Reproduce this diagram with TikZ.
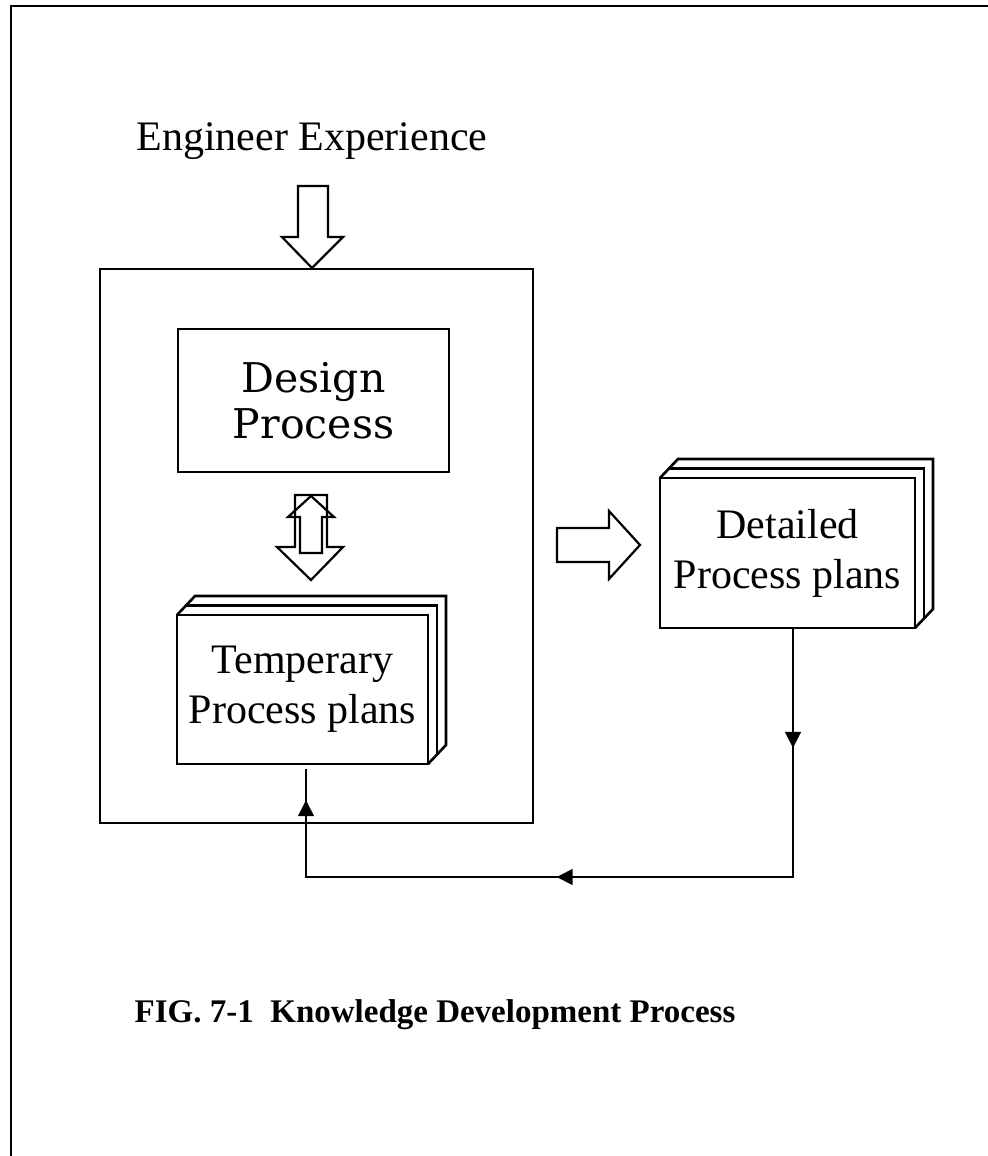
\documentclass[tikz,border=0pt]{standalone}
\usepackage{fontspec}
\setmainfont{Liberation Serif}
\newfontfamily\dsfont{DejaVu Serif}
\usetikzlibrary{arrows.meta,decorations.markings,calc}
\begin{document}
\begin{tikzpicture}[x=0.5pt,y=-0.5pt,
  frameline/.style={line width=1.2pt},
  boxline/.style={line width=1.3pt},
  boxnode/.style={draw, boxline, inner sep=0pt, outer sep=0pt, align=center},
  barrow/.style={line width=1.1pt, line join=miter},
  fb/.style={line width=0.8pt},
  lbl/.style={font=\fontsize{21}{25}\selectfont, align=center},
  fbmarks/.style={postaction={decorate}, decoration={markings,
     mark=at position 0.142 with {\arrow{Triangle[length=8pt,width=8pt]}},
     mark=at position 0.575 with {\arrow{Triangle[length=8pt,width=8pt]}},
     mark=at position 0.963 with {\arrow{Triangle[length=8pt,width=8pt]}}}},
]
\useasboundingbox (0,0) rectangle (988,1156);
% page border
\coordinate (bl) at (11,1156);
\coordinate (tl) at (11,6);
\coordinate (tr) at (988,6);
\draw[frameline] (bl) -- (tl) -- (tr);

% title text
\node[lbl, anchor=base] (eng) at (312,150) {Engineer Experience};

% container
\node[boxnode, minimum width=216.5pt, minimum height=277pt] (cont) at (316.5,546) {};

% design process
\node[boxnode, minimum width=135.5pt, minimum height=71.5pt,
      font=\dsfont\fontsize{20.5}{23}\selectfont] (des) at (313.5,400.5) {Design\\Process};

% temporary plans (stacked)
\node[boxnode, minimum width=125.5pt, minimum height=74.5pt, lbl] (tmp) at (302.5,689.5) {Temperary\\Process plans};
\draw[boxline] (tmp.north west) -- ++(18,-19) -| ($(tmp.south east)+(18,-19)$) -- (tmp.south east);
\draw[boxline] ($(tmp.north west)+(9,-9.5)$) -| ($(tmp.south east)+(9,-9.5)$);

% detailed plans (stacked)
\node[boxnode, minimum width=127.5pt, minimum height=75pt, lbl] (det) at (787.5,553) {Detailed\\Process plans};
\draw[boxline] (det.north west) -- ++(18,-19) -| ($(det.south east)+(18,-19)$) -- (det.south east);
\draw[boxline] ($(det.north west)+(9,-9.5)$) -| ($(det.south east)+(9,-9.5)$);

% block arrow: experience -> container
\draw[barrow] (298,186) -- (328,186) -- (328,237) -- (343,237) -- (312,268)
   -- (282,237) -- (298,237) -- cycle;

% double block arrow between design and temporary
\draw[barrow] (300,553) -- (300,517) -- (288,517) -- (311,496) -- (334,517)
   -- (322,517) -- (322,553) -- cycle;
\draw[barrow] (295,495) -- (327,495) -- (327,547) -- (343,547) -- (311,580)
   -- (277,547) -- (295,547) -- cycle;

% block arrow: container -> detailed
\draw[barrow] (557,528) -- (609,528) -- (609,511) -- (640,545) -- (609,579)
   -- (609,562) -- (557,562) -- cycle;

% feedback loop
\coordinate (r) at (793,877);
\coordinate (l) at (306,877);
\draw[fb, fbmarks] (det.south -| r) -- (r) -- (l) -- ($(tmp.south -| l)+(0,5)$);

% caption
\node[font=\bfseries\fontsize{16.5}{18}\selectfont, anchor=base] (cap) at (435,1022)
  {FIG. 7-1\ \ Knowledge Development Process};
\end{tikzpicture}
\end{document}
